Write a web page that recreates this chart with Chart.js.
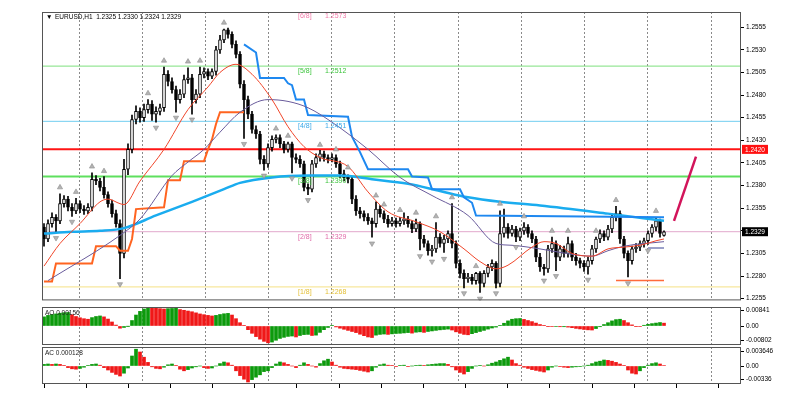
<!DOCTYPE html>
<html>
<head>
<meta charset="utf-8">
<title>EURUSD,H1</title>
<script src="https://cdn.jsdelivr.net/npm/chart.js@4"></script>
<style>
  html, body { margin: 0; padding: 0; background: #fff; }
  #wrap { position: relative; width: 800px; height: 399px; }
  .pane { position: absolute; left: 0; width: 800px; }
</style>
</head>
<body>
<div id="wrap">
  <div class="pane" style="top:0;height:305px"><canvas id="main"></canvas></div>
  <div class="pane" style="top:305px;height:42px"><canvas id="ao"></canvas></div>
  <div class="pane" style="top:347px;height:52px"><canvas id="ac"></canvas></div>
</div>
<script>
// Velas H1 de EURUSD (índice de barra 0..155)
const opens = [
  1.2334, 1.2321, 1.2338, 1.2345, 1.2341, 1.2360, 1.2365, 1.2356, 1.2352, 1.2360,
  1.2354, 1.2352, 1.2356, 1.2387, 1.2385, 1.2378, 1.2370, 1.2360, 1.2349, 1.2338,
  1.2305, 1.2398, 1.2420, 1.2453, 1.2462, 1.2455, 1.2464, 1.2470, 1.2459, 1.2462,
  1.2466, 1.2503, 1.2495, 1.2486, 1.2475, 1.2481, 1.2497, 1.2499, 1.2475, 1.2481,
  1.2503, 1.2506, 1.2501, 1.2506, 1.2530, 1.2541, 1.2552, 1.2547, 1.2536, 1.2525,
  1.2492, 1.2475, 1.2459, 1.2442, 1.2437, 1.2409, 1.2404, 1.2422, 1.2431, 1.2433,
  1.2426, 1.2420, 1.2426, 1.2411, 1.2409, 1.2404, 1.2378, 1.2376, 1.2404, 1.2411,
  1.2415, 1.2411, 1.2409, 1.2411, 1.2404, 1.2393, 1.2389, 1.2387, 1.2365, 1.2352,
  1.2349, 1.2345, 1.2341, 1.2338, 1.2354, 1.2349, 1.2343, 1.2338, 1.2341, 1.2338,
  1.2341, 1.2343, 1.2338, 1.2332, 1.2338, 1.2321, 1.2316, 1.2308, 1.2310, 1.2323,
  1.2316, 1.2321, 1.2327, 1.2316, 1.2294, 1.2283, 1.2277, 1.2279, 1.2275, 1.2283,
  1.2272, 1.2283, 1.2290, 1.2294, 1.2272, 1.2327, 1.2334, 1.2327, 1.2332, 1.2323,
  1.2330, 1.2334, 1.2327, 1.2321, 1.2301, 1.2290, 1.2288, 1.2310, 1.2316, 1.2301,
  1.2310, 1.2305, 1.2316, 1.2301, 1.2297, 1.2294, 1.2290, 1.2297, 1.2310, 1.2321,
  1.2327, 1.2323, 1.2332, 1.2345, 1.2349, 1.2321, 1.2305, 1.2297, 1.2310, 1.2312,
  1.2316, 1.2319, 1.2327, 1.2334, 1.2341, 1.2325
];
const highs = [
  1.2338, 1.2342, 1.2350, 1.2348, 1.2371, 1.2369, 1.2368, 1.2360, 1.2366, 1.2363,
  1.2358, 1.2360, 1.2394, 1.2391, 1.2388, 1.2390, 1.2373, 1.2364, 1.2353, 1.2342,
  1.2409, 1.2426, 1.2458, 1.2468, 1.2466, 1.2470, 1.2475, 1.2474, 1.2467, 1.2470,
  1.2511, 1.2507, 1.2499, 1.2490, 1.2486, 1.2502, 1.2510, 1.2503, 1.2486, 1.2511,
  1.2510, 1.2509, 1.2509, 1.2534, 1.2546, 1.2553, 1.2554, 1.2550, 1.2540, 1.2528,
  1.2496, 1.2479, 1.2462, 1.2446, 1.2440, 1.2413, 1.2426, 1.2435, 1.2436, 1.2436,
  1.2429, 1.2428, 1.2428, 1.2415, 1.2413, 1.2407, 1.2382, 1.2408, 1.2415, 1.2419,
  1.2418, 1.2414, 1.2415, 1.2414, 1.2407, 1.2397, 1.2392, 1.2390, 1.2369, 1.2356,
  1.2352, 1.2349, 1.2344, 1.2362, 1.2358, 1.2352, 1.2347, 1.2345, 1.2344, 1.2345,
  1.2350, 1.2346, 1.2341, 1.2343, 1.2340, 1.2325, 1.2319, 1.2314, 1.2339, 1.2327,
  1.2325, 1.2330, 1.2360, 1.2319, 1.2298, 1.2287, 1.2283, 1.2282, 1.2284, 1.2285,
  1.2286, 1.2293, 1.2298, 1.2296, 1.2352, 1.2354, 1.2338, 1.2336, 1.2335, 1.2333,
  1.2339, 1.2337, 1.2330, 1.2324, 1.2305, 1.2293, 1.2314, 1.2323, 1.2319, 1.2314,
  1.2313, 1.2323, 1.2319, 1.2305, 1.2300, 1.2297, 1.2301, 1.2314, 1.2323, 1.2331,
  1.2330, 1.2336, 1.2349, 1.2357, 1.2352, 1.2324, 1.2308, 1.2313, 1.2316, 1.2319,
  1.2322, 1.2330, 1.2337, 1.2345, 1.2343, 1.2330
];
const lows = [
  1.2313, 1.2318, 1.2334, 1.2328, 1.2338, 1.2356, 1.2352, 1.2346, 1.2349, 1.2350,
  1.2348, 1.2349, 1.2352, 1.2381, 1.2374, 1.2366, 1.2356, 1.2345, 1.2334, 1.2277,
  1.2300, 1.2392, 1.2416, 1.2448, 1.2450, 1.2451, 1.2460, 1.2452, 1.2450, 1.2458,
  1.2462, 1.2490, 1.2482, 1.2461, 1.2471, 1.2477, 1.2493, 1.2459, 1.2471, 1.2477,
  1.2499, 1.2497, 1.2498, 1.2502, 1.2526, 1.2538, 1.2543, 1.2532, 1.2521, 1.2488,
  1.2432, 1.2454, 1.2438, 1.2432, 1.2404, 1.2397, 1.2400, 1.2418, 1.2427, 1.2422,
  1.2416, 1.2417, 1.2394, 1.2405, 1.2400, 1.2374, 1.2370, 1.2373, 1.2400, 1.2407,
  1.2407, 1.2405, 1.2406, 1.2400, 1.2389, 1.2385, 1.2383, 1.2360, 1.2347, 1.2344,
  1.2341, 1.2337, 1.2323, 1.2334, 1.2345, 1.2339, 1.2334, 1.2335, 1.2334, 1.2335,
  1.2337, 1.2334, 1.2328, 1.2329, 1.2309, 1.2312, 1.2303, 1.2302, 1.2306, 1.2312,
  1.2306, 1.2317, 1.2311, 1.2289, 1.2278, 1.2267, 1.2273, 1.2271, 1.2271, 1.2262,
  1.2268, 1.2279, 1.2286, 1.2267, 1.2268, 1.2323, 1.2322, 1.2324, 1.2318, 1.2319,
  1.2326, 1.2323, 1.2317, 1.2296, 1.2285, 1.2281, 1.2284, 1.2306, 1.2286, 1.2297,
  1.2301, 1.2301, 1.2297, 1.2292, 1.2289, 1.2285, 1.2282, 1.2293, 1.2306, 1.2317,
  1.2319, 1.2320, 1.2328, 1.2341, 1.2316, 1.2300, 1.2279, 1.2293, 1.2306, 1.2308,
  1.2312, 1.2315, 1.2323, 1.2330, 1.2323, 1.2324
];
const closes = [
  1.2321, 1.2338, 1.2345, 1.2341, 1.2360, 1.2365, 1.2356, 1.2352, 1.2360, 1.2354,
  1.2352, 1.2356, 1.2387, 1.2385, 1.2378, 1.2370, 1.2360, 1.2349, 1.2338, 1.2305,
  1.2398, 1.2420, 1.2453, 1.2462, 1.2455, 1.2464, 1.2470, 1.2459, 1.2462, 1.2466,
  1.2503, 1.2495, 1.2486, 1.2475, 1.2481, 1.2497, 1.2499, 1.2475, 1.2481, 1.2503,
  1.2506, 1.2501, 1.2506, 1.2530, 1.2541, 1.2552, 1.2547, 1.2536, 1.2525, 1.2492,
  1.2475, 1.2459, 1.2442, 1.2437, 1.2409, 1.2404, 1.2422, 1.2431, 1.2433, 1.2426,
  1.2420, 1.2426, 1.2411, 1.2409, 1.2404, 1.2378, 1.2376, 1.2404, 1.2411, 1.2415,
  1.2411, 1.2409, 1.2411, 1.2404, 1.2393, 1.2389, 1.2387, 1.2365, 1.2352, 1.2349,
  1.2345, 1.2341, 1.2338, 1.2354, 1.2349, 1.2343, 1.2338, 1.2341, 1.2338, 1.2341,
  1.2343, 1.2338, 1.2332, 1.2338, 1.2321, 1.2316, 1.2308, 1.2310, 1.2323, 1.2316,
  1.2321, 1.2327, 1.2316, 1.2294, 1.2283, 1.2277, 1.2279, 1.2275, 1.2283, 1.2272,
  1.2283, 1.2290, 1.2294, 1.2272, 1.2327, 1.2334, 1.2327, 1.2332, 1.2323, 1.2330,
  1.2334, 1.2327, 1.2321, 1.2301, 1.2290, 1.2288, 1.2310, 1.2316, 1.2301, 1.2310,
  1.2305, 1.2316, 1.2301, 1.2297, 1.2294, 1.2290, 1.2297, 1.2310, 1.2321, 1.2327,
  1.2323, 1.2332, 1.2345, 1.2349, 1.2321, 1.2305, 1.2297, 1.2310, 1.2312, 1.2316,
  1.2319, 1.2327, 1.2334, 1.2341, 1.2327, 1.2329
];

// Niveles Murrey y línea roja horizontal
const murreyNames  = ['[6/8]', '[5/8]', '[4/8]', '[3/8]', '[2/8]', '[1/8]'];
const murreyLevels = [1.2573, 1.2512, 1.2451, 1.2390, 1.2329, 1.2268];
const redLevel = 1.2420;
const lastPrice = 1.2329;

// Medias y bandas (índice de barra, precio)
const fastMaIdx = [0, 4, 9, 14, 16, 19, 20, 24, 30, 36, 41, 44, 48, 52, 57, 61, 65, 69, 76, 81, 86, 93, 99, 105, 109, 113, 116, 122, 125, 128, 132, 137, 141, 145, 149, 153, 155];
const fastMaVal = [1.2291, 1.2316, 1.2338, 1.2362, 1.2365, 1.2360, 1.2359, 1.2385, 1.2420, 1.2464, 1.2489, 1.2505, 1.2514, 1.2503, 1.2475, 1.2445, 1.2423, 1.2411, 1.2401, 1.2373, 1.2351, 1.2340, 1.2329, 1.2310, 1.2296, 1.2288, 1.2292, 1.2312, 1.2318, 1.2316, 1.2305, 1.2302, 1.2310, 1.2312, 1.2314, 1.2319, 1.2321];
const slowMaIdx = [1, 19, 24, 32, 36, 40, 44, 49, 56, 61, 66, 72, 81, 89, 97, 106, 113, 117, 124, 132, 137, 141, 145, 155];
const slowMaVal = [1.2275, 1.2325, 1.2343, 1.2391, 1.2406, 1.2420, 1.2439, 1.2461, 1.2475, 1.2473, 1.2466, 1.2450, 1.2420, 1.2389, 1.2369, 1.2347, 1.2316, 1.2314, 1.2310, 1.2304, 1.2302, 1.2308, 1.2313, 1.2318];
const longMaIdx = [0, 7, 14, 20, 28, 37, 45, 49, 57, 66, 74, 82, 91, 99, 106, 114, 124, 141, 155];
const longMaVal = [1.2327, 1.2329, 1.2330, 1.2333, 1.2347, 1.2362, 1.2376, 1.2383, 1.2389, 1.2391, 1.2391, 1.2387, 1.2382, 1.2374, 1.2367, 1.2362, 1.2358, 1.2349, 1.2341];
const upperIdx = [50, 53, 54, 60, 61, 62, 63, 65, 66, 76, 77, 79, 81, 91, 92, 96, 97, 104, 105, 107, 108, 155];
const upperVal = [1.2536, 1.2527, 1.2499, 1.2499, 1.2493, 1.2491, 1.2475, 1.2475, 1.2458, 1.2456, 1.2434, 1.2417, 1.2398, 1.2398, 1.2390, 1.2389, 1.2376, 1.2376, 1.2367, 1.2361, 1.2347, 1.2345];
const lowerIdx = [0, 2, 3, 12, 13, 18, 19, 21, 22, 23, 30, 31, 34, 35, 40, 41, 42, 43, 44, 50];
const lowerVal = [1.2274, 1.2274, 1.2294, 1.2294, 1.2313, 1.2313, 1.2308, 1.2308, 1.2321, 1.2354, 1.2356, 1.2386, 1.2386, 1.2407, 1.2407, 1.2420, 1.2431, 1.2448, 1.2461, 1.2461];

// Fractales
const fracUpIdx = [4, 8, 12, 15, 26, 30, 36, 39, 45, 58, 61, 69, 73, 76, 83, 85, 89, 93, 98, 102, 108, 114, 120, 127, 131, 138, 143, 153];
const fracUpVal = [1.2378, 1.2373, 1.2401, 1.2396, 1.2482, 1.2518, 1.2517, 1.2518, 1.2560, 1.2443, 1.2435, 1.2425, 1.2420, 1.2400, 1.2369, 1.2359, 1.2353, 1.2350, 1.2346, 1.2367, 1.2291, 1.2360, 1.2346, 1.2330, 1.2330, 1.2330, 1.2364, 1.2352];
const fracDnIdx = [3, 7, 19, 28, 33, 37, 50, 55, 62, 66, 82, 94, 97, 100, 105, 109, 113, 118, 125, 128, 136, 146, 151];
const fracDnVal = [1.2322, 1.2340, 1.2271, 1.2444, 1.2455, 1.2453, 1.2426, 1.2391, 1.2388, 1.2364, 1.2316, 1.2302, 1.2296, 1.2299, 1.2261, 1.2255, 1.2261, 1.2312, 1.2275, 1.2280, 1.2276, 1.2272, 1.2308];

// Líneas cortas y tendencia dibujada a mano
const supportIdx = [143, 155];
const supportVal = 1.2275;
const pivotIdx = [151, 155];
const pivotVal = 1.2311;
const trendIdx = [157.5, 163];
const trendVal = [1.2341, 1.2412];

// Osciladores AO y AC
const aoValues = [
  0.0050, 0.0058, 0.0063, 0.0066, 0.0070, 0.0073, 0.0074, 0.0062, 0.0052, 0.0045,
  0.0040, 0.0037, 0.0046, 0.0052, 0.0055, 0.0050, 0.0038, 0.0022, 0.0005, -0.0012,
  -0.0008, -0.0001, 0.0030, 0.0060, 0.0080, 0.0093, 0.0099, 0.0098, 0.0097, 0.0095,
  0.0093, 0.0095, 0.0096, 0.0097, 0.0090, 0.0086, 0.0082, 0.0078, 0.0072, 0.0066,
  0.0062, 0.0058, 0.0055, 0.0058, 0.0063, 0.0067, 0.0069, 0.0060, 0.0040, 0.0018,
  0.0002, -0.0020, -0.0040, -0.0058, -0.0072, -0.0084, -0.0092, -0.0088, -0.0078, -0.0068,
  -0.0062, -0.0057, -0.0055, -0.0060, -0.0052, -0.0047, -0.0046, -0.0052, -0.0050, -0.0035,
  -0.0020, -0.0008, 0.0002, -0.0005, -0.0012, -0.0018, -0.0024, -0.0030, -0.0036, -0.0045,
  -0.0053, -0.0060, -0.0063, -0.0050, -0.0046, -0.0044, -0.0046, -0.0043, -0.0041, -0.0040,
  -0.0038, -0.0036, -0.0039, -0.0034, -0.0032, -0.0035, -0.0030, -0.0027, -0.0024, -0.0021,
  -0.0019, -0.0017, -0.0022, -0.0032, -0.0040, -0.0046, -0.0048, -0.0042, -0.0036, -0.0030,
  -0.0024, -0.0017, -0.0011, -0.0006, 0.0002, 0.0015, 0.0028, 0.0037, 0.0040, 0.0041,
  0.0036, 0.0030, 0.0024, 0.0016, 0.0008, 0.0002, -0.0002, -0.0003, -0.0003, -0.0004,
  -0.0004, -0.0006, -0.0009, -0.0013, -0.0016, -0.0019, -0.0021, -0.0022, -0.0014, -0.0004,
  0.0008, 0.0018, 0.0028, 0.0035, 0.0037, 0.0030, 0.0018, 0.0006, -0.0002, -0.0003,
  0.0004, 0.0009, 0.0013, 0.0016, 0.0019, 0.00156
];
const acValues = [
  0.0004, 0.0005, 0.0004, 0.0005, 0.0004, 0.0001, -0.0004, -0.0007, -0.0008, -0.0006,
  -0.0003, 0.0001, 0.0004, 0.0005, 0.0002, -0.0004, -0.0010, -0.0016, -0.0021, -0.0025,
  -0.0018, -0.0005, 0.0025, 0.0042, 0.0035, 0.0022, 0.0009, -0.0002, -0.0006, -0.0007,
  -0.0003, 0.0003, 0.0005, 0.0001, -0.0008, -0.0012, -0.0009, -0.0005, -0.0002, 0.0000,
  -0.0004, -0.0006, -0.0005, 0.0000, 0.0006, 0.0010, 0.0008, 0.0002, -0.0012, -0.0024,
  -0.0033, -0.0040, -0.0034, -0.0028, -0.0022, -0.0014, -0.0012, -0.0004, 0.0005, 0.0010,
  0.0008, 0.0004, 0.0000, -0.0004, 0.0002, 0.0008, 0.0004, 0.0000, -0.0003, 0.0006,
  0.0013, 0.0017, 0.0010, 0.0002, -0.0003, -0.0006, -0.0007, -0.0008, -0.0009, -0.0011,
  -0.0013, -0.0015, -0.0012, -0.0003, 0.0003, 0.0005, 0.0002, 0.0001, -0.0001, 0.0001,
  0.0002, -0.0001, 0.0000, 0.0001, 0.0002, 0.0001, 0.0003, 0.0004, 0.0005, 0.0006,
  0.0006, 0.0004, -0.0002, -0.0010, -0.0016, -0.0020, -0.0014, -0.0006, 0.0000, 0.0001,
  0.0000, 0.0003, 0.0007, 0.0010, 0.0014, 0.0018, 0.0022, 0.0015, 0.0006, 0.0002,
  -0.0003, -0.0006, -0.0009, -0.0011, -0.0013, -0.0015, -0.0010, -0.0003, 0.0000, -0.0001,
  -0.0003, -0.0004, -0.0003, -0.0002, -0.0001, 0.0000, 0.0002, 0.0006, 0.0010, 0.0012,
  0.0015, 0.0014, 0.0012, 0.0009, 0.0005, 0.0001, -0.0010, -0.0018, -0.0020, -0.0012,
  -0.0004, 0.0002, 0.0006, 0.0008, 0.0005, 0.000128
];

// Etiquetas de los ejes
const priceTicks = [1.2555, 1.2530, 1.2505, 1.2480, 1.2455, 1.2430, 1.2405, 1.2380, 1.2355, 1.2330, 1.2305, 1.2280, 1.2255];
const aoTicks = [0.00841, 0, -0.00802];
const acTicks = [0.003646, 0, -0.00336];
const headerText = 'EURUSD,H1  1.2325 1.2330 1.2324 1.2329';

// ---- estilos ----
const FONT = "'Liberation Sans', Arial, sans-serif";
const X_MIN = -0.5, X_MAX = 174.25;
const murreyLine = ['#f08cb4', '#7de07d', '#70cdf0', '#5ee05e', '#e2a8cc', '#f5e184'];
const murreyText = ['#f07aa8', '#3cc43c', '#3aa8e8', '#3cc43c', '#e06aa8', '#e4c038'];
const murreyWidth = [1, 1, 1, 2, 1, 1];
const GREEN = '#0c9a0c', RED = '#f01818';

const pts = (idx, val) => idx.map((x, k) => ({ x, y: Array.isArray(val) ? val[k] : val }));

// quita el margen que Chart.js reserva para las etiquetas de los extremos
const noPad = s => { s.paddingTop = 0; s.paddingBottom = 0; s.paddingLeft = 0; s.paddingRight = 0; };

// Eje X común: líneas verticales punteadas cada 24 velas (días)
function dayGrid() {
  return {
    type: 'linear', min: X_MIN, max: X_MAX, offset: false,
    ticks: { display: false },
    grid: { color: '#8a8a8a', lineWidth: 1, drawTicks: false, offset: false },
    border: { display: false, dash: [2, 2] },
    afterBuildTicks: s => {
      const t = [];
      for (let v = 8.75; v < X_MAX; v += 15.8) t.push({ value: v });
      s.ticks = t;
    },
    afterFit: s => { s.height = 0; noPad(s); }
  };
}

// Marco de cada panel
const framePlugin = {
  id: 'frame',
  afterDraw(chart) {
    const { ctx, chartArea: a } = chart;
    ctx.save();
    ctx.strokeStyle = '#555';
    ctx.lineWidth = 1;
    ctx.strokeRect(a.left + 0.5, a.top + 0.5, a.right - a.left - 1, a.bottom - a.top - 1);
    ctx.restore();
  }
};

// Textos del panel principal
const mainTextPlugin = {
  id: 'mainText',
  afterDraw(chart) {
    const { ctx, chartArea: a, scales: { y } } = chart;
    ctx.save();
    ctx.textBaseline = 'middle';
    ctx.font = `6.5px ${FONT}`;
    ctx.fillStyle = '#000';
    ctx.fillText('\u25BC', a.left + 4, a.top + 5.5);
    ctx.fillText(headerText, a.left + 13, a.top + 5.5);

    ctx.font = `7px ${FONT}`;
    murreyLevels.forEach((lv, k) => {
      const py = Math.max(y.getPixelForValue(lv) + 5, a.top + 3);
      ctx.fillStyle = murreyText[k];
      ctx.fillText(murreyNames[k], 298, py);
      ctx.fillText(lv.toFixed(4), 325, py);
    });

    const box = (val, bg) => {
      const py = y.getPixelForValue(val);
      ctx.fillStyle = bg;
      ctx.fillRect(a.right + 1, py - 4.5, 26, 9);
      ctx.fillStyle = '#fff';
      ctx.font = `6.5px ${FONT}`;
      ctx.fillText(val.toFixed(4), a.right + 4, py + 0.5);
    };
    box(redLevel, '#ff1010');
    box(lastPrice, '#000');
    ctx.restore();
  }
};

function panelLabel(text) {
  return {
    id: 'panelLabel',
    afterDraw(chart) {
      const { ctx, chartArea: a } = chart;
      ctx.save();
      ctx.font = `6.5px ${FONT}`;
      ctx.fillStyle = '#222';
      ctx.textBaseline = 'middle';
      ctx.fillText(text, a.left + 3, a.top + 6);
      ctx.restore();
    }
  };
}

function rightAxis(min, max, ticks, fmt) {
  return {
    position: 'right', min, max,
    afterBuildTicks: s => { s.ticks = ticks.map(v => ({ value: v })); },
    afterFit: s => { s.width = 59; noPad(s); },
    grid: { drawOnChartArea: false, drawTicks: true, tickLength: 3, color: '#000' },
    border: { display: false },
    ticks: { font: { size: 6.5, family: FONT }, color: '#000', padding: 2, callback: fmt }
  };
}

// ---- panel principal ----
const levelSets = murreyLevels.map((lv, k) => ({
  type: 'line', data: pts([X_MIN, X_MAX], lv), borderColor: murreyLine[k],
  borderWidth: murreyWidth[k], pointRadius: 0, order: 20
}));
levelSets.push({
  type: 'line', data: pts([X_MIN, X_MAX], redLevel), borderColor: '#ff1414',
  borderWidth: 2, pointRadius: 0, order: 19
});

const bodyColor = opens.map((o, k) => (closes[k] >= o ? '#ffffff' : '#000000'));

new Chart(document.getElementById('main'), {
  data: {
    datasets: [
      ...levelSets,
      { type: 'bar', data: opens.map((o, k) => ({ x: k, y: [lows[k], highs[k]] })),
        backgroundColor: '#000', barThickness: 1, grouped: false, order: 12 },
      { type: 'bar', data: opens.map((o, k) => ({ x: k, y: [o, closes[k]] })),
        backgroundColor: bodyColor, borderColor: '#000', borderWidth: 1, borderSkipped: false,
        minBarLength: 1, barThickness: 3, grouped: false, order: 11 },
      { type: 'line', data: pts(longMaIdx, longMaVal), borderColor: '#1aacef', borderWidth: 2.5,
        pointRadius: 0, cubicInterpolationMode: 'monotone', order: 8 },
      { type: 'line', data: pts(upperIdx, upperVal), borderColor: '#1e88f0', borderWidth: 2,
        pointRadius: 0, order: 7 },
      { type: 'line', data: pts(lowerIdx, lowerVal), borderColor: '#ff6420', borderWidth: 2,
        pointRadius: 0, order: 7 },
      { type: 'line', data: pts(slowMaIdx, slowMaVal), borderColor: '#6a5c9c', borderWidth: 1,
        pointRadius: 0, cubicInterpolationMode: 'monotone', order: 6 },
      { type: 'line', data: pts(fastMaIdx, fastMaVal), borderColor: '#f0462a', borderWidth: 1,
        pointRadius: 0, cubicInterpolationMode: 'monotone', order: 5 },
      { type: 'line', data: pts(supportIdx, supportVal), borderColor: '#ff6a3a', borderWidth: 1.5,
        pointRadius: 0, order: 5 },
      { type: 'line', data: pts(pivotIdx, pivotVal), borderColor: '#7a80b8', borderWidth: 1.5,
        pointRadius: 0, order: 5 },
      { type: 'line', data: pts(fracUpIdx, fracUpVal), showLine: false, pointStyle: 'triangle',
        pointRadius: 3, backgroundColor: '#b4b4b4', borderColor: '#8c8c8c', borderWidth: 0.6, order: 4 },
      { type: 'line', data: pts(fracDnIdx, fracDnVal), showLine: false, pointStyle: 'triangle',
        rotation: 180, pointRadius: 3, backgroundColor: '#b4b4b4', borderColor: '#8c8c8c',
        borderWidth: 0.6, order: 4 },
      { type: 'line', data: pts(trendIdx, trendVal), borderColor: '#d2145a', borderWidth: 2.5,
        pointRadius: 0, clip: false, order: 1 }
    ]
  },
  options: {
    responsive: true, maintainAspectRatio: false, animation: false,
    layout: { padding: { left: 42, top: 12, right: 0, bottom: 3 } },
    plugins: { legend: { display: false }, tooltip: { enabled: false } },
    scales: {
      x: dayGrid(),
      y: rightAxis(1.22531, 1.25718, priceTicks, v => v.toFixed(4))
    }
  },
  plugins: [framePlugin, mainTextPlugin]
});

// ---- AO y AC ----
function histColors(vals) {
  return vals.map((v, k) => (k === 0 || v >= vals[k - 1] ? GREEN : RED));
}
const fmtOsc = v => (v === 0 ? '0.00' : String(v));

new Chart(document.getElementById('ao'), {
  type: 'bar',
  data: { datasets: [{ data: aoValues.map((v, k) => ({ x: k, y: v })),
    backgroundColor: histColors(aoValues), barThickness: 3 }] },
  options: {
    responsive: true, maintainAspectRatio: false, animation: false,
    layout: { padding: { left: 42, top: 2, right: 0, bottom: 2 } },
    plugins: { legend: { display: false }, tooltip: { enabled: false } },
    scales: { x: dayGrid(), y: rightAxis(-0.0104, 0.0104, aoTicks, fmtOsc) }
  },
  plugins: [framePlugin, panelLabel('AO 0.00156')]
});

const timeAxis = {
  type: 'linear', min: X_MIN, max: X_MAX, position: 'bottom', offset: false,
  ticks: { display: false },
  grid: { drawOnChartArea: false, drawTicks: true, tickLength: 4, color: '#000', offset: false },
  border: { display: false },
  afterBuildTicks: s => {
    const t = [];
    for (let v = 0; v < X_MAX; v += 10.54) t.push({ value: v });
    s.ticks = t;
  },
  afterFit: s => { s.height = 15; noPad(s); }
};

new Chart(document.getElementById('ac'), {
  type: 'bar',
  data: { datasets: [{ data: acValues.map((v, k) => ({ x: k, y: v })),
    backgroundColor: histColors(acValues), barThickness: 3 }] },
  options: {
    responsive: true, maintainAspectRatio: false, animation: false,
    layout: { padding: { left: 42, top: 0, right: 0, bottom: 0 } },
    plugins: { legend: { display: false }, tooltip: { enabled: false } },
    scales: { x: dayGrid(), xt: timeAxis, y: rightAxis(-0.0045, 0.00475, acTicks, fmtOsc) }
  },
  plugins: [framePlugin, panelLabel('AC 0.000128')]
});
</script>
</body>
</html>
